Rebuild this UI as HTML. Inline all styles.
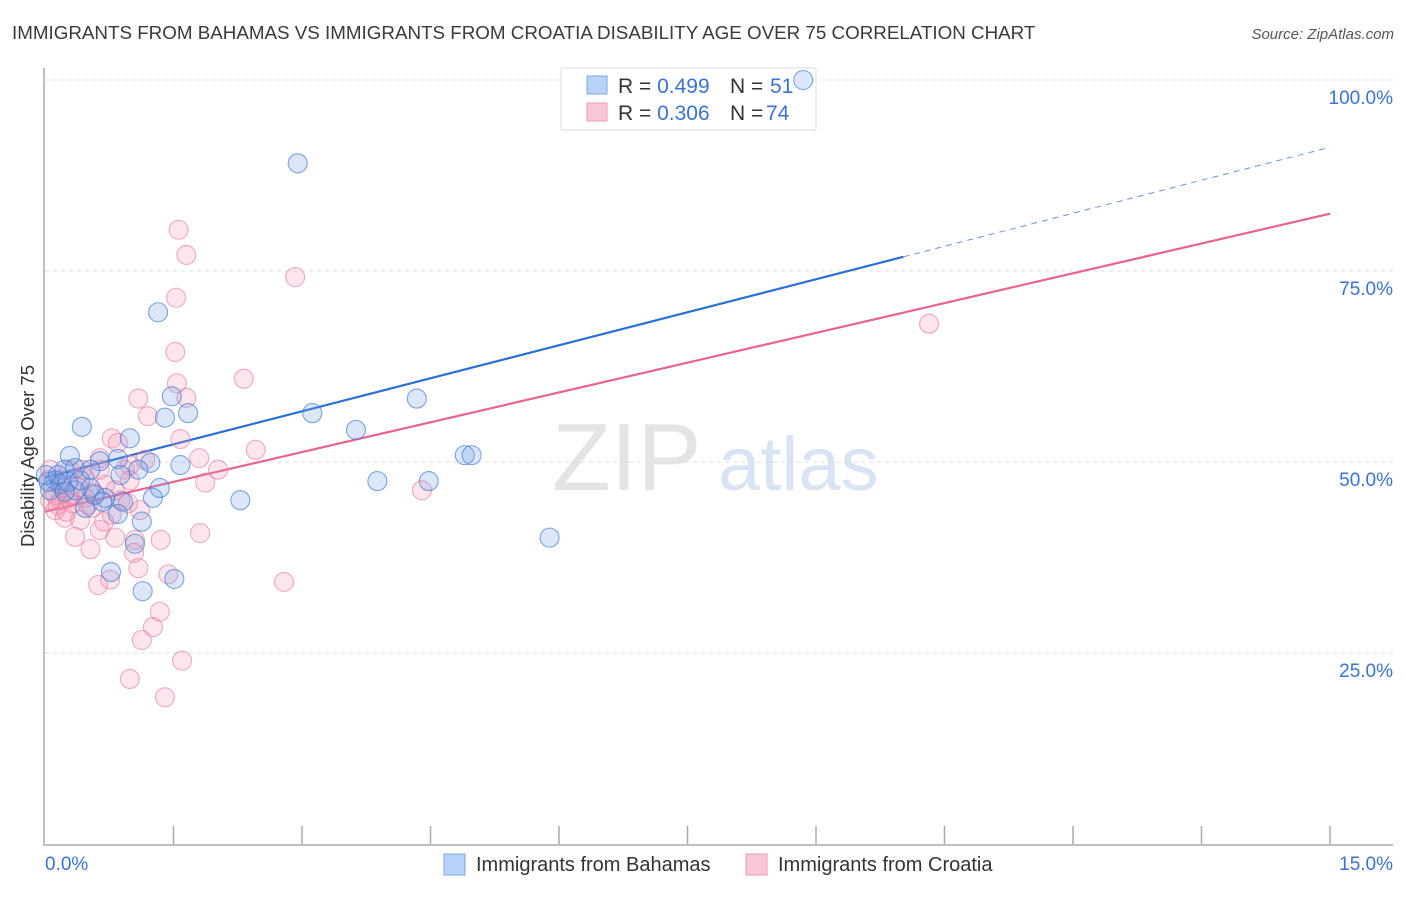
<!DOCTYPE html>
<html><head><meta charset="utf-8"><style>
body{margin:0;background:#fff;font-family:"Liberation Sans",sans-serif}
svg text{font-family:"Liberation Sans",sans-serif}
</style></head><body>
<svg id="chart" width="1406" height="892" xmlns="http://www.w3.org/2000/svg">
<text x="12" y="39" font-size="18.8" fill="#3a3a3a">IMMIGRANTS FROM BAHAMAS VS IMMIGRANTS FROM CROATIA DISABILITY AGE OVER 75 CORRELATION CHART</text>
<text x="1394" y="39" font-size="15" fill="#555" text-anchor="end" font-style="italic">Source: ZipAtlas.com</text>
<g><text x="552" y="490" font-size="96" fill="#e4e4e4" font-family="Liberation Serif">ZIP</text><text x="718" y="490" font-size="76" fill="#d8e4f4">atlas</text></g>
<g id="grid"></g><g id="axes"></g>
<g>
<rect x="561" y="68" width="255" height="62" fill="#fff" stroke="#ddd"/>
<rect x="587" y="76" width="20" height="18" fill="#b8d3f5" stroke="#7aa7e6"/>
<rect x="587" y="103" width="20" height="18" fill="#f8c6d6" stroke="#ee9ab5"/>
<text x="618" y="93" font-size="21" fill="#333">R = <tspan fill="#3a73d4">0.499</tspan><tspan x="730">N = </tspan><tspan x="770" fill="#3a73d4">51</tspan></text>
<text x="618" y="120" font-size="21" fill="#333">R = <tspan fill="#3a73d4">0.306</tspan><tspan x="730">N = </tspan><tspan x="766" fill="#3a73d4">74</tspan></text>
</g>
<g id="lines"></g><g id="pts"></g>
<text transform="translate(34,456) rotate(-90)" font-size="18.5" fill="#333" text-anchor="middle">Disability Age Over 75</text>
<g>
<rect x="444" y="854" width="21" height="21" fill="#b8d3f5" stroke="#7aa7e6"/>
<text x="476" y="871" font-size="20" fill="#333">Immigrants from Bahamas</text>
<rect x="746" y="854" width="21" height="21" fill="#f8c6d6" stroke="#ee9ab5"/>
<text x="778" y="871" font-size="20" fill="#333">Immigrants from Croatia</text>
</g>
</svg>
<script>
const yTicks=[25,50,75,100];
const yTickLabels=["25.0%","50.0%","75.0%","100.0%"];
const xTickLabels=["0.0%","15.0%"];
const blueX=[8.85,2.95,1.32,1.48,1.40,1.67,3.12,4.34,3.63,0.43,0.99,0.29,0.64,1.23,1.58,0.85,1.09,0.23,0.35,0.12,0.04,0.18,0.53,0.70,0.91,1.26,1.34,2.28,3.88,4.48,4.90,4.98,5.89,1.13,0.85,1.05,0.77,1.14,1.51,0.47,0.58,0.35,0.27,0.06,0.67,0.15,0.88,0.41,0.53,0.01,0.23];
const blueY=[100.0,89.1,69.6,58.6,55.8,56.4,56.4,58.3,54.2,54.6,53.1,50.8,50.1,49.9,49.6,50.4,49.0,49.0,49.2,47.6,47.4,47.1,46.6,45.3,44.8,45.3,46.6,45.0,47.5,47.5,50.9,50.9,40.1,42.2,43.2,39.3,35.6,33.1,34.7,44.0,45.7,46.3,47.4,46.3,44.8,48.3,48.3,47.6,49.0,48.3,46.1];
const pinkX=[1.56,1.65,1.53,2.92,1.52,1.54,1.65,2.32,1.09,1.20,10.32,1.58,0.78,0.85,2.46,1.80,2.02,1.87,0.99,0.93,0.64,4.40,0.46,0.58,0.29,0.18,0.12,0.23,0.41,0.64,0.35,0.53,0.82,1.05,1.04,1.81,1.35,1.09,1.44,0.62,0.76,2.79,1.34,1.26,1.13,1.60,0.99,1.40,0.06,0.04,0.20,0.32,0.47,0.70,0.88,1.17,0.78,0.97,0.15,0.25,0.55,0.39,0.64,0.12,1.11,0.50,0.69,0.29,0.18,0.82,0.99,0.06,0.27,0.43];
const pinkY=[80.4,77.1,71.5,74.2,64.4,60.3,58.4,60.9,58.3,56.0,68.1,53.0,53.1,52.5,51.6,50.5,49.0,47.3,49.6,49.0,50.5,46.3,48.0,45.9,45.7,45.0,43.7,42.7,42.4,41.1,40.2,38.6,40.1,39.8,38.1,40.7,39.8,36.1,35.3,33.9,34.6,34.3,30.4,28.4,26.7,24.0,21.6,19.2,49.0,47.6,46.6,44.6,45.3,47.0,45.0,50.3,43.1,44.6,44.4,43.5,44.0,46.7,49.0,45.7,43.7,44.4,42.2,49.0,47.6,46.3,47.6,45.0,45.3,49.0];
const blueTrend=[48.0,91.2]; const blueSolidEnd=10.02;
const pinkTrend=[43.5,82.5];
const X0=45,X1=1330,Y0=844,Y100=80;
const sx=v=>X0+(v/15)*(X1-X0);
const sy=v=>Y0-(v/100)*(Y0-Y100);
const NS="http://www.w3.org/2000/svg";
function mk(p,t,a){const e=document.createElementNS(NS,t);for(const k in a)e.setAttribute(k,a[k]);p.appendChild(e);return e;}
const grid=document.getElementById('grid'),axes=document.getElementById('axes'),lines=document.getElementById('lines'),pts=document.getElementById('pts');
yTicks.forEach((t,i)=>{
 const l=mk(grid,'line',{x1:X0,x2:1393,y1:sy(t),y2:sy(t),stroke:'#ddd','stroke-dasharray':'4,4'});
 
 
 const tx=mk(grid,'text',{x:1393,y:sy(t)+24,'font-size':19,fill:'#3a73d4','text-anchor':'end'});
 tx.textContent=yTickLabels[i];
 
 
});
const ax=mk(axes,'path',{d:`M${X0-1} 68 V${Y0+1} H1393`,stroke:'#aaa',fill:'none','stroke-width':1.5});


for(let i=1;i<=10;i++){const x=sx(i*1.5);
 const t=mk(axes,'line',{x1:x,x2:x,y1:826,y2:Y0,stroke:'#aaa','stroke-width':1.5});
 
 }
const xl0=mk(axes,'text',{x:45,y:870,'font-size':19,fill:'#3a73d4'});xl0.textContent=xTickLabels[0];


const xl1=mk(axes,'text',{x:1393,y:870,'font-size':19,fill:'#3a73d4','text-anchor':'end'});xl1.textContent=xTickLabels[1];


function drawPts(xs,ys,fill,stroke,name){xs.forEach((x,i)=>{
 const c=mk(pts,'circle',{cx:sx(x),cy:sy(ys[i]),r:9.5,fill:fill,stroke:stroke,'stroke-width':1.1});
 
 });}
drawPts(pinkX,pinkY,'rgba(244,150,180,0.25)','rgba(230,120,155,0.6)','croatia-point');
drawPts(blueX,blueY,'rgba(110,160,230,0.25)','rgba(60,120,210,0.65)','bahamas-point');
const ty=(tr,x)=>tr[0]+(tr[1]-tr[0])*x/15;
const pl=mk(lines,'line',{x1:sx(0),y1:sy(ty(pinkTrend,0)),x2:sx(15),y2:sy(ty(pinkTrend,15)),stroke:'#e8638f','stroke-width':2.2});


const bl=mk(lines,'line',{x1:sx(0),y1:sy(ty(blueTrend,0)),x2:sx(blueSolidEnd),y2:sy(ty(blueTrend,blueSolidEnd)),stroke:'#2a6fd6','stroke-width':2.2});


const bd=mk(lines,'line',{x1:sx(blueSolidEnd),y1:sy(ty(blueTrend,blueSolidEnd)),x2:sx(15),y2:sy(ty(blueTrend,15)),stroke:'#6a95d8','stroke-width':1,'stroke-dasharray':'6,5'});


</script>
</body></html>
